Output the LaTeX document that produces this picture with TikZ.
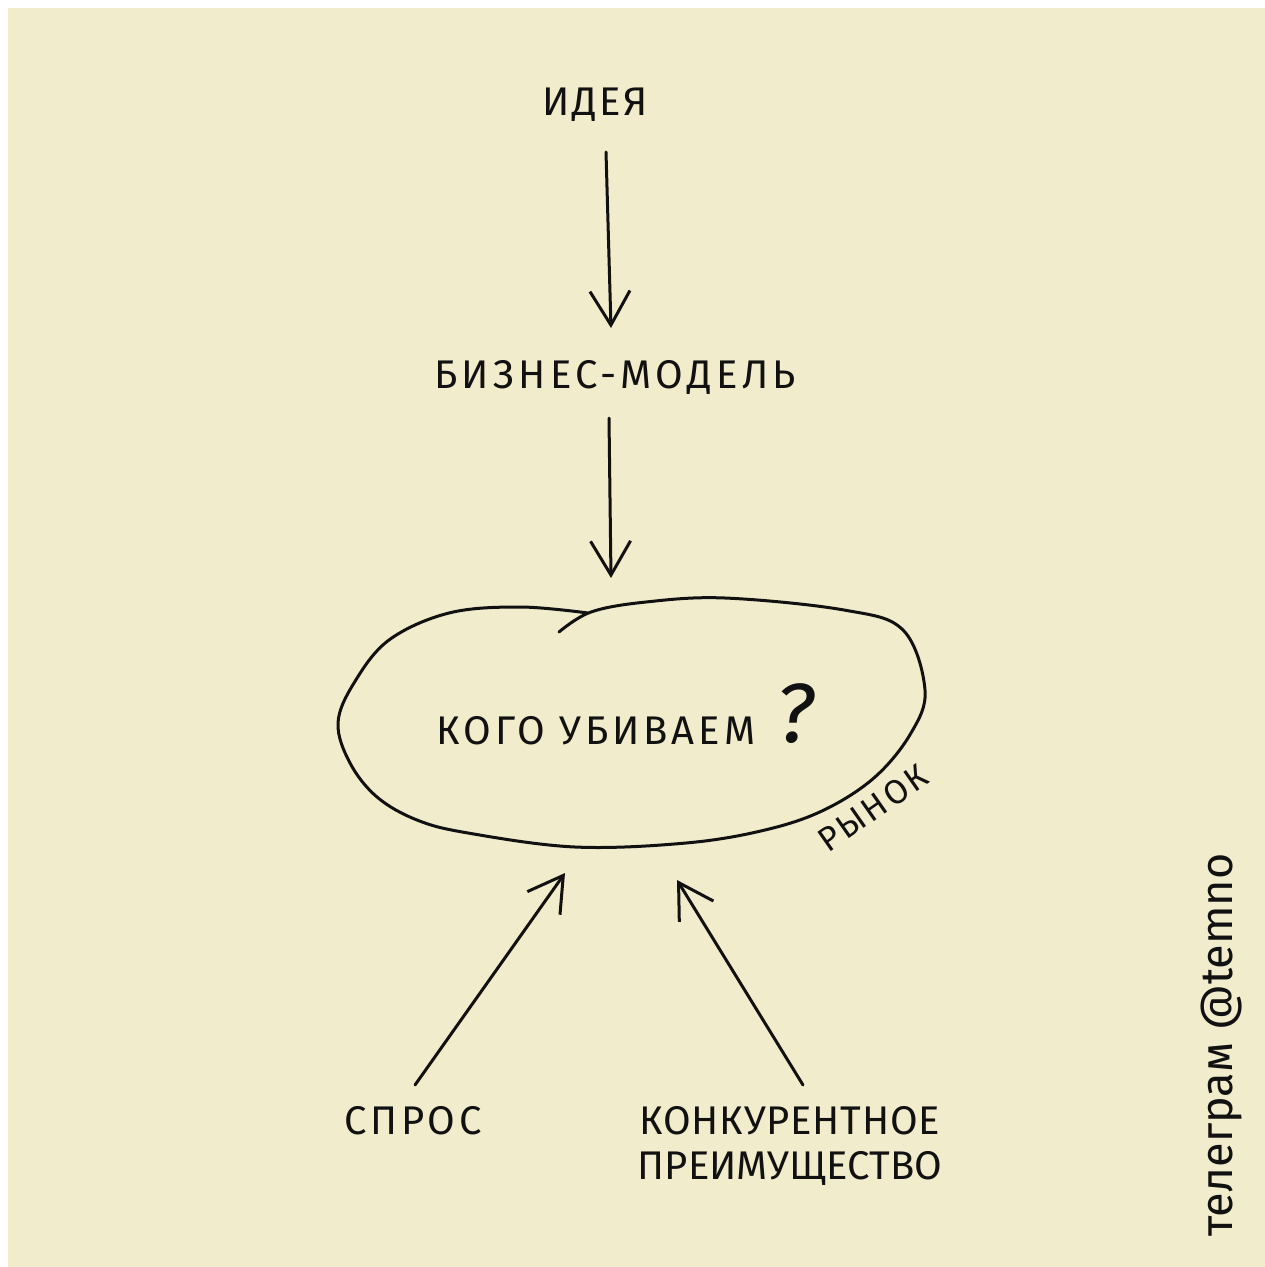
\documentclass[tikz,border=0pt]{standalone}
\usepackage{fontspec}
\setmainfont{Fira Sans}
\usetikzlibrary{arrows.meta}
\definecolor{paper}{HTML}{F1ECCB}
\definecolor{ink}{HTML}{111111}
\newcommand{\spaced}[1]{\addfontfeatures{LetterSpace=#1}}
\begin{document}
\begin{tikzpicture}[x=1pt,y=-1pt,
  pen/.style={draw=ink, line width=3pt, line cap=round, line join=round},
  arr/.style={pen, -{Straight Barb[length=34pt,width=40pt]}},
  lbl/.style={inner sep=0pt, text=ink, font=\fontsize{40}{45}\selectfont}]

% sheet
\fill[white] (0,0) rectangle (1265,1267);
\fill[paper] (8,8) rectangle (1265,1267);
\useasboundingbox (0,0) rectangle (1265,1267);

% labels
\node[lbl] (idea) at (595,105) {\spaced{6}ИДЕЯ};
\node[lbl] (model) at (615,377) {\spaced{11}БИЗНЕС-МОДЕЛЬ};
\node[lbl] (question) at (596,731) {\spaced{10}КОГО УБИВАЕМ};
\node[lbl, anchor=base, font=\fontsize{84}{84}\selectfont\addfontfeatures{FakeSlant=0.1}] (qmark) at (794,742) {?};
\node[lbl, rotate=35, font=\fontsize{34}{34}\selectfont] (market) at (873,808) {\spaced{8}РЫНОК};
\node[lbl] (demand) at (413,1121) {\spaced{9}СПРОС};
\node[lbl, align=center] (advantage) at (790,1146) {\spaced{2}КОНКУРЕНТНОЕ\\ПРЕИМУЩЕСТВО};
\node[lbl, rotate=90, font=\fontsize{45}{45}\selectfont] (channel) at (1222,1045) {телеграм @temno};

% the market outline
\draw[pen] plot[smooth, tension=0.6] coordinates {
  (559,632) (591,612) (646,602) (725,598) (844,610) (903,630) (925,690)
  (911,733) (875,777) (824,810) (765,830) (686,843) (575,847) (468,833)
  (417,820) (377,797) (350,763) (338,723) (354,683) (389,640) (449,613)
  (520,607) (588,613)};

% connector end points
\coordinate (idea-out) at (606,152);
\coordinate (model-in) at (611,328);
\coordinate (model-out) at (609,418);
\coordinate (market-top) at (611,578);
\coordinate (market-left) at (565,873);
\coordinate (market-right) at (677,880);
\coordinate (demand-out) at (415,1085);
\coordinate (advantage-out) at (803,1085);

% connectors
\draw[arr] (idea-out) -- (model-in);
\draw[arr] (model-out) -- (market-top);
\draw[arr] (demand-out) -- (market-left);
\draw[arr] (advantage-out) -- (market-right);
\end{tikzpicture}
\end{document}
